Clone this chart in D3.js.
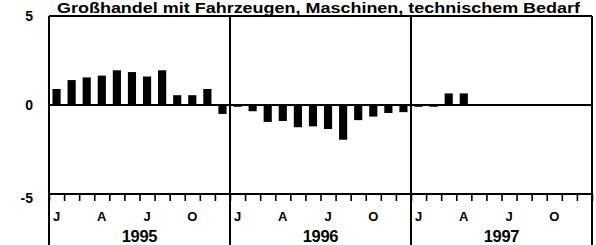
<!DOCTYPE html>
<html>
<head>
<meta charset="utf-8">
<script src="https://cdn.jsdelivr.net/npm/d3@7"></script>
<style>
  body { margin: 0; background: #fff; }
  svg { display: block; }
  text { font-family: "Liberation Sans", Arial, sans-serif; font-weight: bold; fill: #000; }
</style>
</head>
<body>
<div id="chart"></div>
<script>
// Monthly values
const years = ["1995", "1996", "1997"];
const values1995 = [0.9, 1.4, 1.55, 1.65, 1.95, 1.85, 1.6, 1.95, 0.55, 0.55, 0.9, -0.5];
const values1996 = [-0.1, -0.35, -0.95, -0.9, -1.25, -1.2, -1.35, -1.95, -0.85, -0.65, -0.45, -0.4];
const values1997 = [-0.1, -0.1, 0.65, 0.65];
const monthLabels = ["J", "A", "J", "O"];
const monthLabelIdx = [0, 3, 6, 9];
const yTicks = [-5, 0, 5];
const title = "Großhandel mit Fahrzeugen, Maschinen, technischem Bedarf";

const data = [];
[values1995, values1996, values1997].forEach((vals, yi) => {
  vals.forEach((v, m) => data.push({ i: yi * 12 + m, value: v }));
});

const width = 596, height = 245;
const plotLeft = 49, plotRight = 592, plotTop = 16, plotBottom = 194;

const svg = d3.select("#chart").append("svg")
  .attr("width", width)
  .attr("height", height);

// scales
const xBand = d3.scaleBand().domain(d3.range(36)).range([plotLeft, plotRight]).paddingInner(0.46).paddingOuter(0.23);
const xLin = d3.scaleLinear().domain([0, 36]).range([plotLeft, plotRight]);
const y = d3.scaleLinear().domain([-5, 5]).range([plotBottom, plotTop]);

// title, wide heavy lettering like the scan
svg.append("text")
  .attr("x", 57)
  .attr("y", 12.5)
  .attr("textLength", 523)
  .attr("lengthAdjust", "spacingAndGlyphs")
  .style("font-size", "14px")
  .text(title);

// bars
svg.selectAll(".bar")
  .data(data)
  .enter().append("rect")
  .attr("class", "bar")
  .attr("x", d => xBand(d.i))
  .attr("width", xBand.bandwidth())
  .attr("y", d => y(Math.max(0, d.value)))
  .attr("height", d => Math.abs(y(d.value) - y(0)))
  .attr("fill", "#000");

// frame: top, zero line, bottom
svg.append("line").attr("x1", plotLeft).attr("x2", plotRight).attr("y1", plotTop).attr("y2", plotTop)
  .attr("stroke", "#000").attr("stroke-width", 2);
svg.append("line").attr("x1", plotLeft).attr("x2", plotRight).attr("y1", y(0)).attr("y2", y(0))
  .attr("stroke", "#000").attr("stroke-width", 2);

// month ticks on bottom axis
const xAxis = d3.axisBottom(xLin).tickValues(d3.range(37)).tickSize(7).tickFormat("");
const gx = svg.append("g").attr("transform", `translate(0,${plotBottom})`).call(xAxis);
gx.select(".domain").remove();
gx.selectAll("line").attr("stroke", "#000").attr("stroke-width", 1.6);
svg.append("line").attr("x1", plotLeft).attr("x2", plotRight).attr("y1", plotBottom).attr("y2", plotBottom)
  .attr("stroke", "#000").attr("stroke-width", 2.2);

// year dividers, running down through the labels
[0, 12, 24, 36].forEach(m => {
  svg.append("line")
    .attr("x1", xLin(m)).attr("x2", xLin(m))
    .attr("y1", plotTop).attr("y2", height)
    .attr("stroke", "#000").attr("stroke-width", 2);
});

// month labels
years.forEach((yr, yi) => {
  monthLabelIdx.forEach((m, k) => {
    svg.append("text")
      .attr("x", xLin(yi * 12 + m + 0.5))
      .attr("y", 221)
      .attr("text-anchor", "middle")
      .style("font-size", "13px")
      .text(monthLabels[k]);
  });
  svg.append("text")
    .attr("x", xLin(yi * 12 + 6))
    .attr("y", 242)
    .attr("text-anchor", "middle")
    .style("font-size", "16.5px")
    .style("letter-spacing", "-0.3px")
    .text(yr);
});

// y axis labels
const yAxis = d3.axisLeft(y).tickValues(yTicks).tickSize(0).tickPadding(16).tickFormat(d => d < 0 ? "-" + Math.abs(d) : d);
const gy = svg.append("g").attr("transform", `translate(${plotLeft},0)`).call(yAxis);
gy.select(".domain").remove();
gy.selectAll("text")
  .style("font-size", "14px")
  .style("font-family", "'Liberation Sans', Arial, sans-serif")
  .style("font-weight", "bold");
gy.selectAll(".tick").filter(d => d === -5).select("text").attr("dy", "0.6em");
</script>
</body>
</html>
